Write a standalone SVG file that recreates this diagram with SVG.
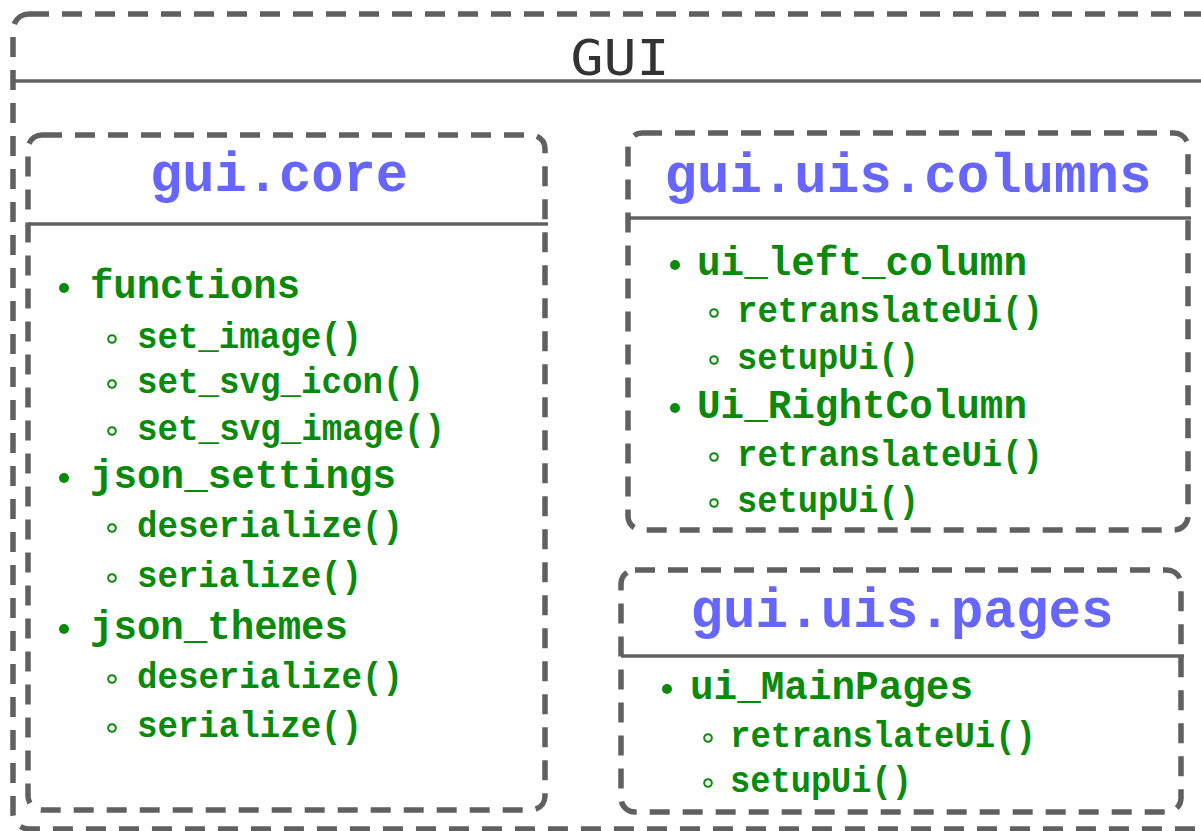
<svg xmlns="http://www.w3.org/2000/svg" width="1201" height="831" viewBox="0 0 1201 831">
  <style>
    .frame { fill: none; stroke: #606060; stroke-width: 5.5; stroke-dasharray: 20 13; }
    .rule { stroke: #606060; stroke-width: 3.5; }
    .title { font-family: "DejaVu Sans Mono", "Liberation Mono", monospace; font-size: 50px; fill: #333333; }
    .head { font-family: "Liberation Mono", "DejaVu Sans Mono", monospace; font-weight: bold; font-size: 55px; fill: #6666ff; }
    .l1 { font-family: "Liberation Mono", "DejaVu Sans Mono", monospace; font-weight: bold; font-size: 40px; fill: #0a8a0a; }
    .l2 { font-family: "Liberation Mono", "DejaVu Sans Mono", monospace; font-weight: bold; font-size: 36px; fill: #0a8a0a; }
    .dot { fill: #0a8a0a; }
    .ring { fill: none; stroke: #0a8a0a; stroke-width: 2; }
  </style>

  <rect width="1201" height="831" fill="#ffffff"/>

  <!-- outer package -->
  <g id="gui">
    <rect class="frame" x="13" y="14" width="1205" height="815" rx="16"/>
    <line class="rule" x1="12" y1="81" x2="1201" y2="81"/>
    <text class="title" x="620" y="75" text-anchor="middle" textLength="99" lengthAdjust="spacingAndGlyphs">GUI</text>
  </g>

  <!-- gui.core module -->
  <g id="gui-core">
    <rect class="frame" x="28" y="135" width="517" height="675" rx="14"/>
    <line class="rule" x1="28" y1="224" x2="548" y2="224"/>
    <text class="head" x="279" y="191" text-anchor="middle" textLength="258" lengthAdjust="spacingAndGlyphs">gui.core</text>

    <circle class="dot" cx="64" cy="288" r="5"/>
    <text class="l1" x="90" y="298" textLength="210" lengthAdjust="spacingAndGlyphs">functions</text>
    <circle class="ring" cx="112" cy="339" r="3.8"/>
    <text class="l2" x="137" y="348" textLength="225" lengthAdjust="spacingAndGlyphs">set_image()</text>
    <circle class="ring" cx="112" cy="384" r="3.8"/>
    <text class="l2" x="137" y="393" textLength="287" lengthAdjust="spacingAndGlyphs">set_svg_icon()</text>
    <circle class="ring" cx="112" cy="431" r="3.8"/>
    <text class="l2" x="137" y="440" textLength="308" lengthAdjust="spacingAndGlyphs">set_svg_image()</text>

    <circle class="dot" cx="64" cy="478" r="5"/>
    <text class="l1" x="90" y="488" textLength="306" lengthAdjust="spacingAndGlyphs">json_settings</text>
    <circle class="ring" cx="112" cy="528" r="3.8"/>
    <text class="l2" x="137" y="537" textLength="266" lengthAdjust="spacingAndGlyphs">deserialize()</text>
    <circle class="ring" cx="112" cy="578" r="3.8"/>
    <text class="l2" x="137" y="587" textLength="225" lengthAdjust="spacingAndGlyphs">serialize()</text>

    <circle class="dot" cx="64" cy="629" r="5"/>
    <text class="l1" x="90" y="639" textLength="258" lengthAdjust="spacingAndGlyphs">json_themes</text>
    <circle class="ring" cx="112" cy="679" r="3.8"/>
    <text class="l2" x="137" y="688" textLength="266" lengthAdjust="spacingAndGlyphs">deserialize()</text>
    <circle class="ring" cx="112" cy="728" r="3.8"/>
    <text class="l2" x="137" y="737" textLength="225" lengthAdjust="spacingAndGlyphs">serialize()</text>
  </g>

  <!-- gui.uis.columns module -->
  <g id="gui-uis-columns">
    <rect class="frame" x="628" y="133" width="560" height="397" rx="14"/>
    <line class="rule" x1="628" y1="218" x2="1191" y2="218"/>
    <text class="head" x="908" y="192" text-anchor="middle" textLength="487" lengthAdjust="spacingAndGlyphs">gui.uis.columns</text>

    <circle class="dot" cx="675" cy="265" r="5"/>
    <text class="l1" x="697" y="275" textLength="330" lengthAdjust="spacingAndGlyphs">ui_left_column</text>
    <circle class="ring" cx="714" cy="313" r="3.8"/>
    <text class="l2" x="737" y="322" textLength="306" lengthAdjust="spacingAndGlyphs">retranslateUi()</text>
    <circle class="ring" cx="714" cy="360" r="3.8"/>
    <text class="l2" x="737" y="369" textLength="182" lengthAdjust="spacingAndGlyphs">setupUi()</text>

    <circle class="dot" cx="675" cy="408" r="5"/>
    <text class="l1" x="697" y="418" textLength="330" lengthAdjust="spacingAndGlyphs">Ui_RightColumn</text>
    <circle class="ring" cx="714" cy="457" r="3.8"/>
    <text class="l2" x="737" y="466" textLength="306" lengthAdjust="spacingAndGlyphs">retranslateUi()</text>
    <circle class="ring" cx="714" cy="503" r="3.8"/>
    <text class="l2" x="737" y="512" textLength="182" lengthAdjust="spacingAndGlyphs">setupUi()</text>
  </g>

  <!-- gui.uis.pages module -->
  <g id="gui-uis-pages">
    <rect class="frame" x="621" y="570" width="560" height="242" rx="14"/>
    <line class="rule" x1="621" y1="656" x2="1184" y2="656"/>
    <text class="head" x="902" y="627" text-anchor="middle" textLength="423" lengthAdjust="spacingAndGlyphs">gui.uis.pages</text>

    <circle class="dot" cx="667" cy="689" r="5"/>
    <text class="l1" x="690" y="699" textLength="283" lengthAdjust="spacingAndGlyphs">ui_MainPages</text>
    <circle class="ring" cx="708" cy="738" r="3.8"/>
    <text class="l2" x="730" y="747" textLength="306" lengthAdjust="spacingAndGlyphs">retranslateUi()</text>
    <circle class="ring" cx="708" cy="783" r="3.8"/>
    <text class="l2" x="730" y="792" textLength="182" lengthAdjust="spacingAndGlyphs">setupUi()</text>
  </g>

  <!-- no connectors between the modules -->
  <g id="connectors"/>
</svg>
